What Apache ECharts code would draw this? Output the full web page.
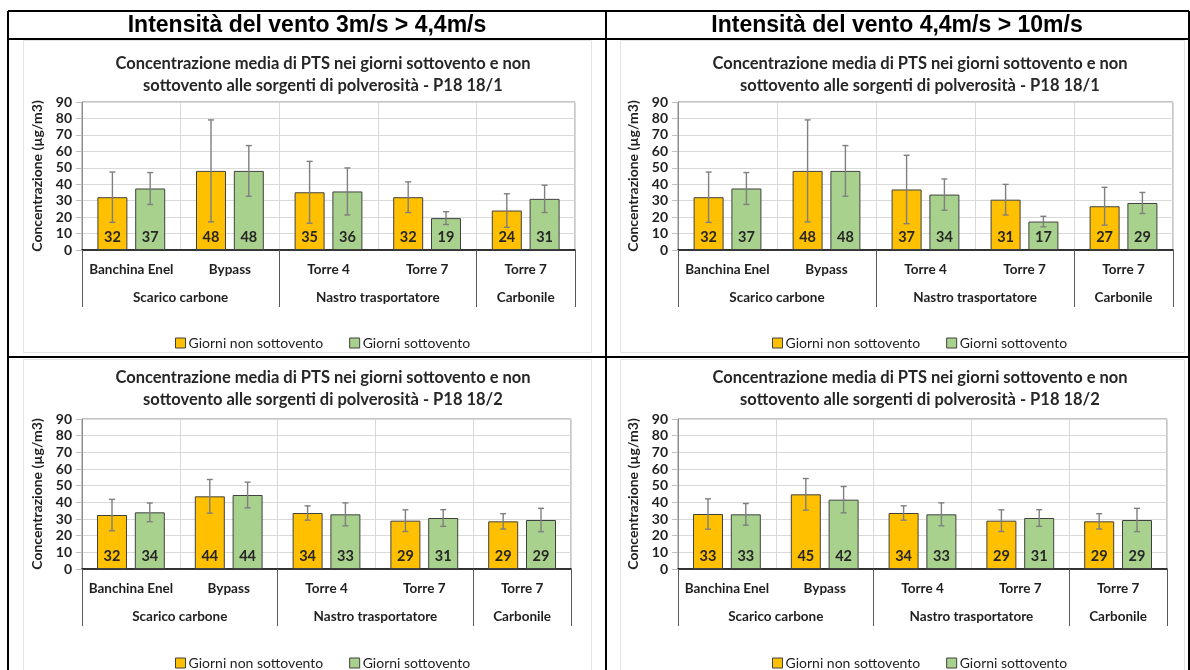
<!DOCTYPE html>
<html>
<head>
<meta charset="utf-8">
<script src="https://cdn.jsdelivr.net/npm/echarts@6/dist/echarts.min.js"></script>
<style>
html,body{margin:0;padding:0;background:#fff;}
#c{width:1190px;height:670px;}
</style>
</head>
<body>
<div id="c"></div>
<script>
// ---------- data ----------
const headers = ['Intensità del vento 3m/s > 4,4m/s', 'Intensità del vento 4,4m/s > 10m/s'];
const titles = [
  'Concentrazione media di PTS nei giorni sottovento e non\nsottovento alle sorgenti di polverosità - P18 18/1',
  'Concentrazione media di PTS nei giorni sottovento e non\nsottovento alle sorgenti di polverosità - P18 18/1',
  'Concentrazione media di PTS nei giorni sottovento e non\nsottovento alle sorgenti di polverosità - P18 18/2',
  'Concentrazione media di PTS nei giorni sottovento e non\nsottovento alle sorgenti di polverosità - P18 18/2'
];
const categories = ['Banchina Enel', 'Bypass', 'Torre 4', 'Torre 7', 'Torre 7'];
const groupNames = ['Scarico carbone', 'Nastro trasportatore', 'Carbonile'];
const groupSizes = [2, 2, 1];
const seriesNames = ['Giorni non sottovento', 'Giorni sottovento'];
const yAxisName = 'Concentrazione (µg/m3)';
const yTicks = [0, 10, 20, 30, 40, 50, 60, 70, 80, 90];

// panel 1: 3m/s > 4,4m/s, P18 18/1
const p1NonSott = [32.1, 48.1, 35.1, 32.1, 24.0];
const p1Sott = [37.4, 48.1, 35.6, 19.4, 31.1];
const p1ErrNonSott = [15.3, 31.0, 18.8, 9.3, 10.2];
const p1ErrSott = [9.7, 15.4, 14.3, 3.9, 8.3];
// panel 2: 4,4m/s > 10m/s, P18 18/1
const p2NonSott = [32.1, 48.1, 36.8, 30.6, 26.6];
const p2Sott = [37.4, 48.1, 33.7, 17.3, 28.6];
const p2ErrNonSott = [15.3, 31.0, 20.8, 9.3, 11.5];
const p2ErrSott = [9.7, 15.4, 9.5, 3.2, 6.4];
// panel 3: 3m/s > 4,4m/s, P18 18/2
const p3NonSott = [32.4, 43.6, 33.6, 29.0, 28.6];
const p3Sott = [34.0, 44.4, 32.8, 30.6, 29.4];
const p3ErrNonSott = [9.4, 10.1, 4.3, 6.5, 4.6];
const p3ErrSott = [5.6, 7.7, 6.9, 5.0, 7.0];
// panel 4: 4,4m/s > 10m/s, P18 18/2
const p4NonSott = [33.0, 44.8, 33.6, 29.0, 28.6];
const p4Sott = [32.8, 41.6, 32.8, 30.6, 29.4];
const p4ErrNonSott = [9.1, 9.5, 4.3, 6.5, 4.6];
const p4ErrSott = [6.5, 7.9, 6.9, 5.0, 7.0];

const panels = [
  { non: p1NonSott, sott: p1Sott, eNon: p1ErrNonSott, eSott: p1ErrSott },
  { non: p2NonSott, sott: p2Sott, eNon: p2ErrNonSott, eSott: p2ErrSott },
  { non: p3NonSott, sott: p3Sott, eNon: p3ErrNonSott, eSott: p3ErrSott },
  { non: p4NonSott, sott: p4Sott, eNon: p4ErrNonSott, eSott: p4ErrSott }
];

// ---------- layout / style ----------
const FONT = 'Lato';
const TXT = '#1f1f1f';
const ORANGE = '#FFC000';
const GREEN = '#A9D18E';
const BAR_W = 30;
const GAP_RATIO = 0.26;
const OFFSET = (BAR_W + BAR_W * GAP_RATIO) / 2;

const grids = [
  { left: 82, top: 102, width: 493, height: 148 },
  { left: 678, top: 102, width: 495, height: 148 },
  { left: 82, top: 419, width: 489, height: 150 },
  { left: 678, top: 419, width: 489, height: 150 }
];
const titlePos = [{ x: 318, y: 48 }, { x: 915, y: 48 }, { x: 318, y: 362 }, { x: 915, y: 362 }];
const legendPos = [{ x: 170, y: 331 }, { x: 767, y: 331 }, { x: 170, y: 651 }, { x: 767, y: 651 }];
const frames = [
  [23, 40, 568, 312], [620, 40, 564, 312], [23, 359, 568, 320], [620, 359, 564, 320]
];

// group axis: 2*N+1 points, labels at group centres, ticks at group boundaries
const nSlots = categories.length * 2 + 1;
const groupAxisData = new Array(nSlots).fill('');
const sepIdx = [0];
let acc = 0;
groupNames.forEach((g, i) => {
  const centre = acc * 2 + groupSizes[i];
  groupAxisData[centre] = g;
  acc += groupSizes[i];
  sepIdx.push(acc * 2);
});

function renderErr(params, api) {
  const cat = api.value(0), mean = api.value(1), err = api.value(2), side = api.value(3);
  const c = api.coord([cat, mean]);
  const x = c[0] + side * OFFSET;
  const top = api.coord([cat, mean + err])[1];
  const bot = api.coord([cat, mean - err])[1];
  const st = { stroke: '#7f7f7f', lineWidth: 1.4 };
  const cap = 3;
  return {
    type: 'group',
    children: [
      { type: 'line', shape: { x1: x, y1: top, x2: x, y2: bot }, style: st },
      { type: 'line', shape: { x1: x - cap, y1: top, x2: x + cap, y2: top }, style: st },
      { type: 'line', shape: { x1: x - cap, y1: bot, x2: x + cap, y2: bot }, style: st }
    ]
  };
}

const option = {
  backgroundColor: '#fff',
  animation: false,
  title: [], legend: [], grid: [], xAxis: [], yAxis: [], series: [],
  graphic: []
};

panels.forEach((p, i) => {
  const g = grids[i];
  option.grid.push({ left: g.left, top: g.top, width: g.width, height: g.height,
    show: true, borderColor: '#8c8c8c', borderWidth: 1, backgroundColor: 'transparent' });
  option.title.push({
    text: titles[i], left: titlePos[i].x, top: titlePos[i].y, textAlign: 'center',
    textStyle: { fontFamily: FONT, fontWeight: 'bold', fontSize: 16.5, lineHeight: 22, color: '#262626' }
  });
  option.legend.push({
    data: seriesNames, left: legendPos[i].x, top: legendPos[i].y,
    icon: 'rect', itemWidth: 10, itemHeight: 10, itemGap: 26, selectedMode: false,
    itemStyle: { borderColor: '#404040', borderWidth: 1 },
    textStyle: { fontFamily: FONT, fontSize: 14, color: TXT, padding: [0, 0, 0, -2] }
  });
  option.xAxis.push({
    type: 'category', gridIndex: i, data: categories, position: 'bottom',
    axisLine: { show: true, lineStyle: { color: '#000', width: 1.5 } },
    axisTick: { show: false },
    splitLine: { show: true, lineStyle: { color: '#d9d9d9', width: 1 } },
    axisLabel: { fontFamily: FONT, fontWeight: 'bold', fontSize: 13.5, color: TXT, margin: 13, interval: 0 }
  });
  option.xAxis.push({
    type: 'category', gridIndex: i, data: groupAxisData, position: 'bottom', boundaryGap: false,
    axisLine: { show: false },
    axisTick: { show: true, length: 57, interval: (idx) => sepIdx.includes(idx),
      lineStyle: { color: '#595959', width: 1 } },
    splitLine: { show: false },
    axisLabel: { fontFamily: FONT, fontWeight: 'bold', fontSize: 13.5, color: TXT, margin: 41,
      interval: (idx) => groupAxisData[idx] !== '' }
  });
  option.yAxis.push({
    type: 'value', gridIndex: i, min: yTicks[0], max: yTicks[yTicks.length - 1], interval: 10,
    name: yAxisName, nameLocation: 'middle', nameRotate: 90, nameGap: 38,
    nameTextStyle: { fontFamily: FONT, fontWeight: 'bold', fontSize: 14, color: TXT },
    axisLine: { show: true, lineStyle: { color: '#8c8c8c', width: 1 } },
    axisTick: { show: true, inside: false, length: 6, lineStyle: { color: '#bfbfbf' } },
    splitLine: { show: true, lineStyle: { color: '#d9d9d9', width: 1 } },
    axisLabel: { fontFamily: FONT, fontWeight: 'bold', fontSize: 14, color: TXT, margin: 10 }
  });
  const lbl = {
    show: true, position: 'insideBottom', distance: 5,
    fontFamily: FONT, fontWeight: 'bold', fontSize: 14.5, color: '#262626',
    formatter: (d) => Math.round(d.value)
  };
  option.series.push({
    name: seriesNames[0], type: 'bar', xAxisIndex: 2 * i, yAxisIndex: i,
    data: p.non, barWidth: BAR_W, barGap: (GAP_RATIO * 100) + '%',
    itemStyle: { color: ORANGE, borderColor: '#404040', borderWidth: 1 }, label: lbl
  });
  option.series.push({
    name: seriesNames[1], type: 'bar', xAxisIndex: 2 * i, yAxisIndex: i,
    data: p.sott, barWidth: BAR_W, barGap: (GAP_RATIO * 100) + '%',
    itemStyle: { color: GREEN, borderColor: '#404040', borderWidth: 1 }, label: lbl
  });
  const errData = [];
  categories.forEach((c, k) => {
    errData.push([k, p.non[k], p.eNon[k], -1]);
    errData.push([k, p.sott[k], p.eSott[k], 1]);
  });
  option.series.push({
    type: 'custom', xAxisIndex: 2 * i, yAxisIndex: i, renderItem: renderErr,
    data: errData, encode: { x: 0, y: 1 }, z: 5, silent: true
  });
});

// chart frames (faint)
frames.forEach((f) => {
  option.graphic.push({ type: 'rect', shape: { x: f[0] + 0.5, y: f[1] + 0.5, width: f[2], height: f[3] },
    style: { fill: 'none', stroke: '#e3e3e3', lineWidth: 1 }, z: -1 });
});
// table lines
const tl = { stroke: '#000', lineWidth: 2 };
[[8, 11, 1189, 11], [8, 39, 1189, 39], [8, 357, 1189, 357],
 [8, 11, 8, 670], [606, 11, 606, 670], [1189, 11, 1189, 670]].forEach((l) => {
  option.graphic.push({ type: 'line', shape: { x1: l[0], y1: l[1], x2: l[2], y2: l[3] }, style: tl, z: 100 });
});
// headers
[[307, 26], [897, 26]].forEach((pos, i) => {
  option.graphic.push({ type: 'text', x: pos[0], y: pos[1],
    style: { text: headers[i], fontFamily: 'Liberation Sans', fontWeight: 'bold', fontSize: 23,
      fill: '#000', align: 'center', verticalAlign: 'middle' }, z: 100 });
});

const chart = echarts.init(document.getElementById('c'), null, { renderer: 'canvas' });
chart.setOption(option);
</script>
</body>
</html>
